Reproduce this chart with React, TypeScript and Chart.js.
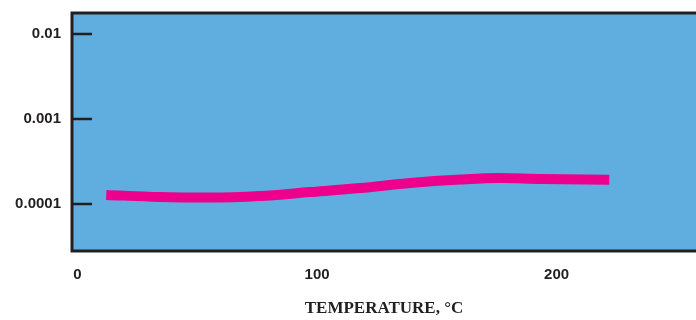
import React, { useEffect, useRef } from "react";
import { Chart, registerables } from "chart.js";

Chart.register(...registerables);

const temperatures = [12, 34, 55, 76, 97, 118, 139, 160, 176, 193, 222];
const values = [1.28e-4, 1.21e-4, 1.19e-4, 1.24e-4, 1.38e-4, 1.54e-4, 1.77e-4, 1.94e-4, 2.02e-4, 1.97e-4, 1.93e-4];
const yTickValues = [1e-4, 1e-3, 1e-2];
const yTickLabels = ["0.0001", "0.001", "0.01"];
const xTickValues = [0, 100, 200];
const xTickLabels = ["0", "100", "200"];
const xTitle = "TEMPERATURE, \u00B0C";

const BG = "#60AEDF";
const LINE = "#EC008C";
const INK = "#231F20";

const framePlugin = {
  id: "frame",
  beforeDraw(chart: any) {
    const { ctx, chartArea } = chart;
    ctx.save();
    ctx.fillStyle = BG;
    ctx.fillRect(chartArea.left, chartArea.top, chartArea.right - chartArea.left, chartArea.bottom - chartArea.top);
    ctx.restore();
  },
  afterDraw(chart: any) {
    const { ctx, chartArea, scales } = chart;
    ctx.save();
    ctx.strokeStyle = INK;
    ctx.lineWidth = 3;
    ctx.beginPath();
    ctx.moveTo(chartArea.right, chartArea.top);
    ctx.lineTo(chartArea.left, chartArea.top);
    ctx.lineTo(chartArea.left, chartArea.bottom);
    ctx.lineTo(chartArea.right, chartArea.bottom);
    ctx.stroke();
    ctx.lineWidth = 2.5;
    yTickValues.forEach((v) => {
      const y = scales.y.getPixelForValue(v);
      ctx.beginPath();
      ctx.moveTo(chartArea.left, y);
      ctx.lineTo(chartArea.left + 20, y);
      ctx.stroke();
    });
    ctx.restore();
  },
};

export default function App() {
  const ref = useRef<HTMLCanvasElement | null>(null);
  useEffect(() => {
    if (!ref.current) return;
    const chart = new Chart(ref.current, {
      type: "line",
      data: {
        datasets: [
          {
            data: temperatures.map((t, i) => ({ x: t, y: values[i] })),
            borderColor: LINE,
            borderWidth: 10,
            borderCapStyle: "butt",
            pointRadius: 0,
            tension: 0.4,
            cubicInterpolationMode: "monotone",
            fill: false,
          },
        ],
      },
      options: {
        animation: false,
        responsive: false,
        layout: { padding: { top: 13, right: 0, left: 0, bottom: 0 } },
        plugins: { legend: { display: false }, tooltip: { enabled: false } },
        scales: {
          x: {
            type: "linear",
            min: -2.3,
            max: 258.2,
            grid: { display: false, drawTicks: false },
            border: { display: false },
            afterBuildTicks: (s: any) => {
              s.ticks = xTickValues.map((v) => ({ value: v }));
            },
            afterFit: (s: any) => {
              s.height = 69;
              s.paddingLeft = 0;
              s.paddingRight = 0;
            },
            ticks: {
              autoSkip: false,
              maxRotation: 0,
              padding: 15,
              color: INK,
              font: { family: "'Liberation Sans', Arial, sans-serif", size: 15, weight: "bold" },
              callback: (_v: any, i: number) => xTickLabels[i],
            },
            title: {
              display: true,
              text: xTitle,
              color: INK,
              padding: { top: 0, bottom: 1 },
              font: { family: "'Liberation Serif', 'Times New Roman', serif", size: 17, weight: "bold" },
            },
          },
          y: {
            type: "logarithmic",
            min: Math.pow(10, -4.553),
            max: Math.pow(10, -1.753),
            grid: { display: false, drawTicks: false },
            border: { display: false },
            afterBuildTicks: (s: any) => {
              s.ticks = yTickValues.map((v) => ({ value: v }));
            },
            afterFit: (s: any) => {
              s.width = 72;
              s.paddingTop = 0;
              s.paddingBottom = 0;
            },
            ticks: {
              autoSkip: false,
              padding: 11,
              color: INK,
              font: { family: "'Liberation Sans', Arial, sans-serif", size: 15, weight: "bold" },
              callback: (_v: any, i: number) => yTickLabels[i],
            },
          },
        },
      },
      plugins: [framePlugin],
    } as any);
    return () => chart.destroy();
  }, []);
  return (
    <canvas
      ref={ref}
      width={696}
      height={320}
      style={{ position: "absolute", left: 0, top: 0, display: "block", width: 696, height: 320 }}
    />
  );
}
